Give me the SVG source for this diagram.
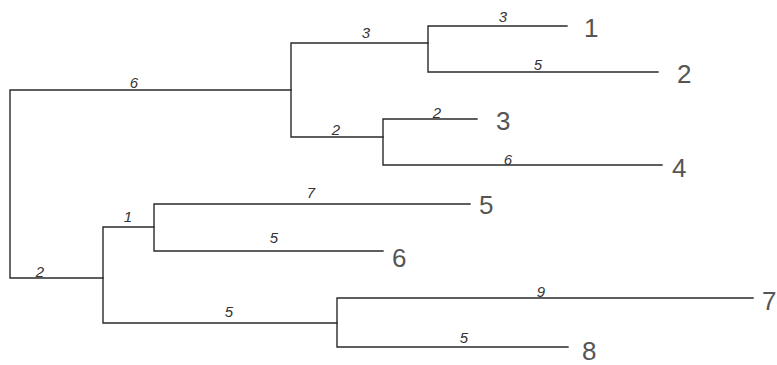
<svg xmlns="http://www.w3.org/2000/svg" width="777" height="365" viewBox="0 0 777 365">
<style>
.e{fill:none;stroke:#2a2a2a;stroke-width:1.4;stroke-linecap:square}
.w{font-family:"Liberation Sans",Arial,sans-serif;font-style:italic;font-size:15px;fill:#333;text-anchor:middle}
.n{font-family:"Liberation Sans",Arial,sans-serif;font-size:26px;fill:#555}
</style>
<rect width="777" height="365" fill="#fff"/>
<g id="connectors">
<path class="e" d="M10,90V278M10,90H291M10,278H103"/>
<path class="e" d="M291,43V137M291,43H428M291,137H383"/>
<path class="e" d="M428,26V72M428,26H567M428,72H658"/>
<path class="e" d="M383,119V165M383,119H477M383,165H662"/>
<path class="e" d="M103,227V323M103,227H154M103,323H337"/>
<path class="e" d="M154,204V251M154,204H470M154,251H383"/>
<path class="e" d="M337,298V347M337,298H753M337,347H568"/>
<g id="weights">
<text class="w" x="134" y="88">6</text>
<text class="w" x="40" y="277">2</text>
<text class="w" x="366" y="38">3</text>
<text class="w" x="336" y="135">2</text>
<text class="w" x="503" y="22">3</text>
<text class="w" x="538" y="70">5</text>
<text class="w" x="437" y="118">2</text>
<text class="w" x="508" y="165">6</text>
<text class="w" x="128" y="222">1</text>
<text class="w" x="229" y="317">5</text>
<text class="w" x="311" y="198">7</text>
<text class="w" x="274" y="243">5</text>
<text class="w" x="541" y="297">9</text>
<text class="w" x="464" y="343">5</text>
</g>
</g>
<g id="leaf1"><text class="n" x="584" y="37">1</text></g>
<g id="leaf2"><text class="n" x="677" y="83">2</text></g>
<g id="leaf3"><text class="n" x="496" y="130">3</text></g>
<g id="leaf4"><text class="n" x="672" y="177">4</text></g>
<g id="leaf5"><text class="n" x="479" y="214">5</text></g>
<g id="leaf6"><text class="n" x="392" y="267">6</text></g>
<g id="leaf7"><text class="n" x="762" y="310">7</text></g>
<g id="leaf8"><text class="n" x="582" y="360">8</text></g>
</svg>
